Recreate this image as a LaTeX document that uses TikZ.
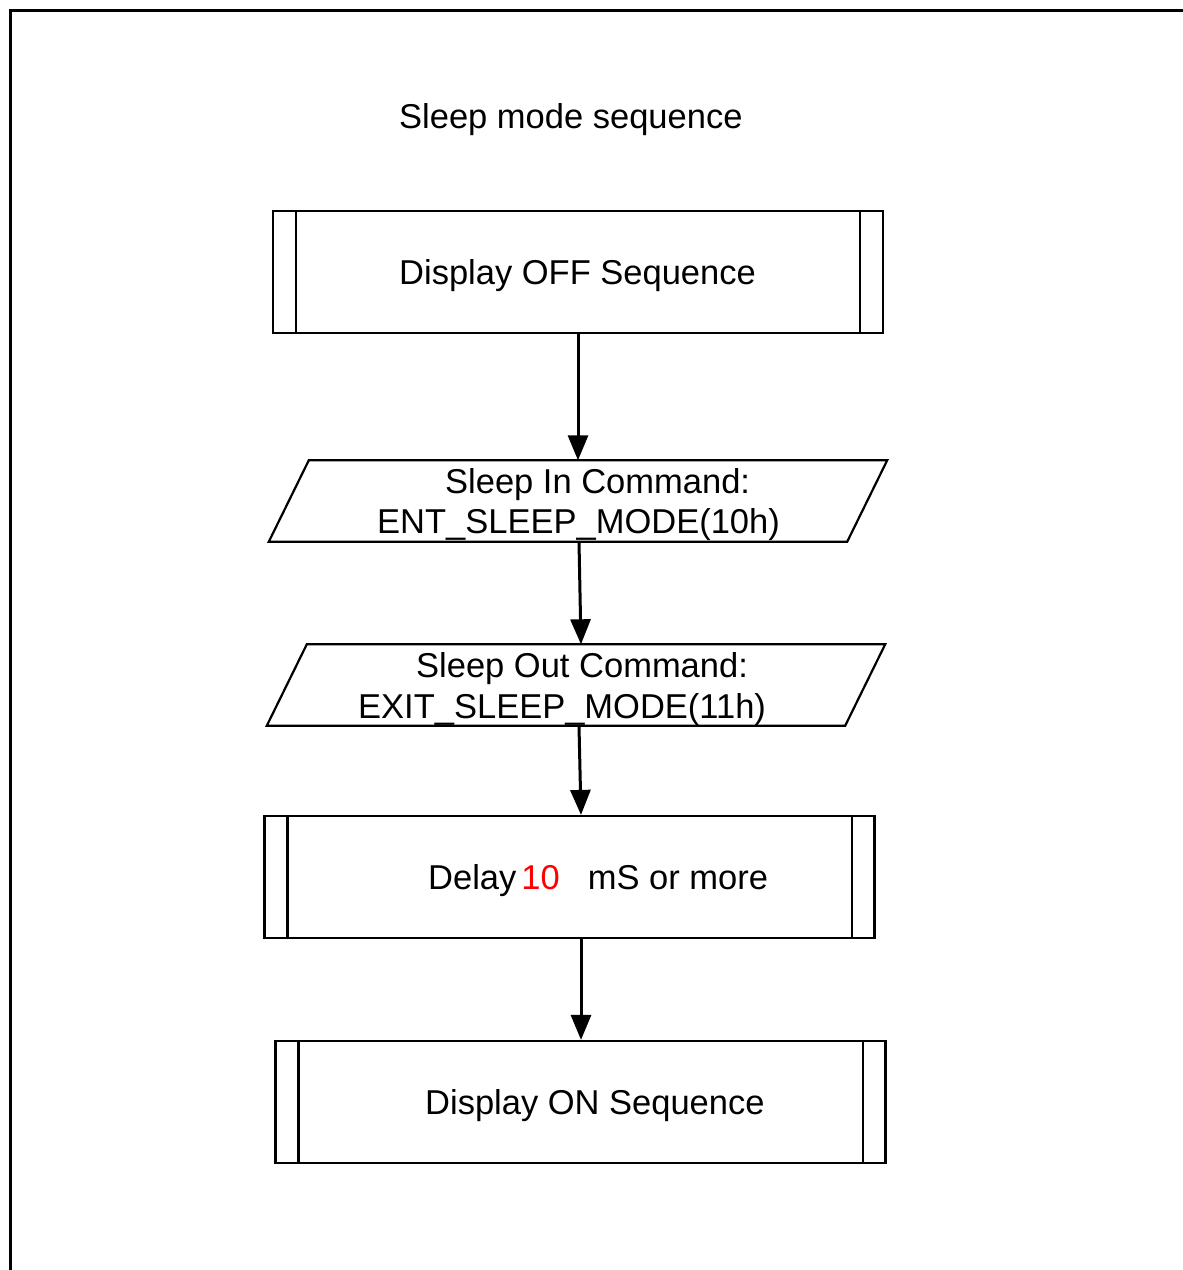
\documentclass[tikz,border=0pt]{standalone}
\usepackage{fontspec}
\setmainfont{Liberation Sans}
\usetikzlibrary{arrows.meta}
\begin{document}
\begin{tikzpicture}[x=1pt,y=-1pt,
  txt/.style={inner sep=0pt,anchor=base west,font=\fontsize{34.5}{40}\selectfont},
  procbox/.style={draw,line width=2.2pt,minimum width=610pt,minimum height=122pt,inner sep=0pt},
  iobox/.style={minimum width=578pt,minimum height=81pt,inner sep=0pt},
  flow/.style={line width=3pt,-{Triangle[length=25pt,width=20pt]}}]
\useasboundingbox (0,0) rectangle (1183,1270);
\draw[line width=3pt] (10,1275) -- (10,10) -- (1190,10);
% title
\node[txt] (title) at (399,128) {Sleep mode sequence};
% box 1
\node[procbox] (b1) at (578,272) {};
\draw[line width=2.2pt] ([xshift=24pt]b1.north west) -- ([xshift=24pt]b1.south west);
\draw[line width=2.2pt] ([xshift=-24pt]b1.north east) -- ([xshift=-24pt]b1.south east);
\node[txt] (b1t) at (399,284) {Display OFF Sequence};
% parallelogram 1
\node[iobox] (p1) at (578,501) {};
\draw[line width=2.2pt] ([xshift=20pt]p1.north west) -- ([xshift=20pt]p1.north east)
  -- ([xshift=-20pt]p1.south east) -- ([xshift=-20pt]p1.south west) -- cycle;
\node[txt] (p1a) at (445,493) {Sleep In Command:};
\node[txt] (p1b) at (377,533) {ENT\_SLEEP\_MODE(10h)};
% parallelogram 2
\node[iobox] (p2) at (576,685) {};
\draw[line width=2.2pt] ([xshift=20pt]p2.north west) -- ([xshift=20pt]p2.north east)
  -- ([xshift=-20pt]p2.south east) -- ([xshift=-20pt]p2.south west) -- cycle;
\node[txt] (p2a) at (416,677) {Sleep Out Command:};
\node[txt] (p2b) at (358,718) {EXIT\_SLEEP\_MODE(11h)};
% box 2
\node[procbox] (b2) at (569.5,877) {};
\draw[line width=2.2pt] ([xshift=24pt]b2.north west) -- ([xshift=24pt]b2.south west);
\draw[line width=2.2pt] ([xshift=-24pt]b2.north east) -- ([xshift=-24pt]b2.south east);
\node[txt] (b2t) at (428,889) {Delay\hspace{5pt}\textcolor{red}{10}\hspace{28pt}mS or more};
% box 3
\node[procbox] (b3) at (580.5,1102) {};
\draw[line width=2.2pt] ([xshift=24pt]b3.north west) -- ([xshift=24pt]b3.south west);
\draw[line width=2.2pt] ([xshift=-24pt]b3.north east) -- ([xshift=-24pt]b3.south east);
\node[txt] (b3t) at (425,1114) {Display ON Sequence};
% connectors
\draw[flow] (b1.south) -- (b1.south |- p1.north);
\draw[flow] ([xshift=1pt]p1.south) -- ([xshift=5pt]p2.north);
\draw[flow] ([xshift=3pt]p2.south) -- ([xshift=11.5pt]b2.north);
\draw[flow] ([xshift=11.5pt]b2.south) -- ([xshift=11.5pt]b2.south |- b3.north);
\end{tikzpicture}
\end{document}
